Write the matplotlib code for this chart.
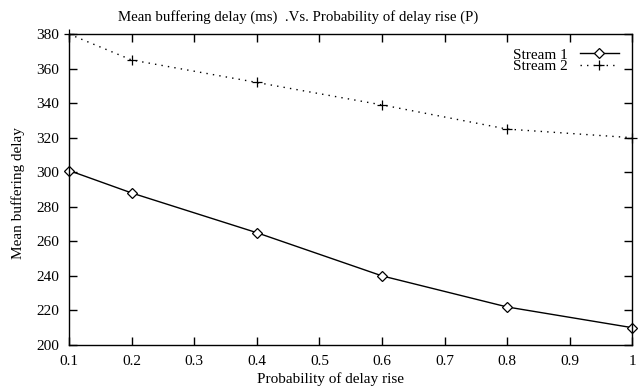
import matplotlib
matplotlib.use("Agg")
import matplotlib.pyplot as plt

# data
prob = [0.1, 0.2, 0.4, 0.6, 0.8, 1.0]
stream1 = [301, 288, 265, 240, 222, 210]
stream2 = [380, 365, 352, 339, 325, 320]

plt.rcParams['font.family'] = ['Liberation Serif', 'DejaVu Serif']
plt.rcParams['font.size'] = 11

fig = plt.figure(figsize=(6.4, 3.92), dpi=100)
ax = fig.add_axes([0.108, 0.12, 0.88, 0.793])

ax.plot(prob, stream1, color='black', lw=1, marker='D', markersize=5,
        markerfacecolor='white', markeredgewidth=0.9, label='Stream 1', clip_on=False)
ax.plot(prob, stream2, color='black', lw=1, ls=(0, (1, 3.7)), marker='+',
        markersize=7, markeredgewidth=0.9, label='Stream 2', clip_on=False)

ax.set_xlim(0.1, 1.0)
ax.set_ylim(200, 380)
ax.set_xticks([0.1, 0.2, 0.3, 0.4, 0.5, 0.6, 0.7, 0.8, 0.9, 1.0])
ax.set_xticklabels(['0.1', '0.2', '0.3', '0.4', '0.5', '0.6', '0.7', '0.8', '0.9', '1'])
ax.set_yticks(range(200, 381, 20))
ax.tick_params(direction='in', top=True, right=True, length=6, width=1, pad=7)

for s in ax.spines.values():
    s.set_linewidth(1)

# gnuplot-style title, centred a bit left of the plot area
fig.text(298 / 640, 1 - 17 / 392, 'Mean buffering delay (ms)  .Vs. Probability of delay rise (P)',
         ha='center', va='center', fontsize=10.7)
ax.set_xlabel('Probability of delay rise')
ax.xaxis.set_label_coords(0.464, -0.088)
ax.set_ylabel('Mean buffering delay')
ax.yaxis.set_label_coords(-0.078, 0.49)

ax.legend(loc='upper right', frameon=False, markerfirst=False, handlelength=2.5,
          labelspacing=-0.12, borderaxespad=0.5, handletextpad=0.8)

fig.savefig('out.png', dpi=100)
